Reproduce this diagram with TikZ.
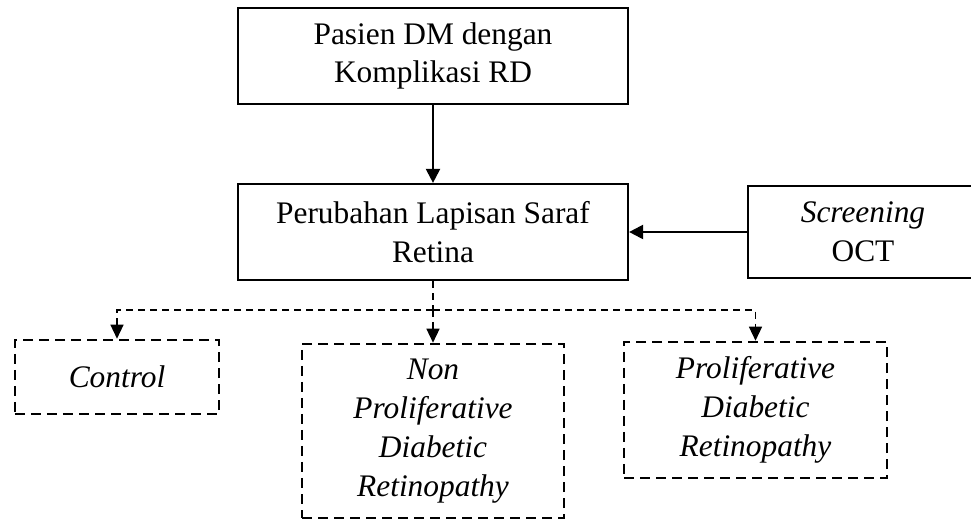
\documentclass[tikz,border=0pt]{standalone}
\usepackage{fontspec}
\setmainfont{Liberation Serif}
\usetikzlibrary{arrows.meta}
\begin{document}
\begin{tikzpicture}[x=1bp,y=-1bp,
  solidbox/.style={draw,line width=2.2bp,inner sep=0pt,align=center,
    font=\fontsize{31.5}{39}\selectfont},
  dashbox/.style={draw,line width=2.6bp,dash pattern=on 10bp off 6bp,inner sep=0pt,align=center,
    font=\fontsize{31.5}{39}\selectfont\itshape},
  mainarrow/.style={line width=2.2bp,-{Triangle[length=14bp,width=14bp]}},
  branch/.style={line width=1.4bp,dash pattern=on 7bp off 5bp},
  brancharrow/.style={branch,-{Triangle[length=14bp,width=13bp]}}]
\useasboundingbox (0,0) rectangle (971,520);
\node[solidbox,minimum width=390bp,minimum height=96bp] (dm) at (433,56) {Pasien DM dengan\\Komplikasi RD};
\node[solidbox,minimum width=390bp,minimum height=96bp] (saraf) at (433,232) {Perubahan Lapisan Saraf\\Retina};
\node[solidbox,minimum width=230bp,minimum height=92bp] (oct) at (863,232) {\textit{Screening}\\OCT};
\node[dashbox,minimum width=204bp,minimum height=74bp] (ctrl) at (117,377) {Control};
\node[dashbox,minimum width=262bp,minimum height=174bp] (npdr) at (433,431) {Non\\Proliferative\\Diabetic\\Retinopathy};
\node[dashbox,minimum width=263bp,minimum height=136bp] (pdr) at (755.5,410) {Proliferative\\Diabetic\\Retinopathy};
\coordinate (split) at (433,310);
\draw[mainarrow] (dm) -- (saraf);
\draw[mainarrow] (oct) -- (saraf);
\draw[branch] (saraf.south) -- (split);
\draw[brancharrow] (split) -| (ctrl.north);
\draw[brancharrow] (split) -- (npdr.north);
\draw[brancharrow] (split) -| (pdr.north);
\end{tikzpicture}
\end{document}
